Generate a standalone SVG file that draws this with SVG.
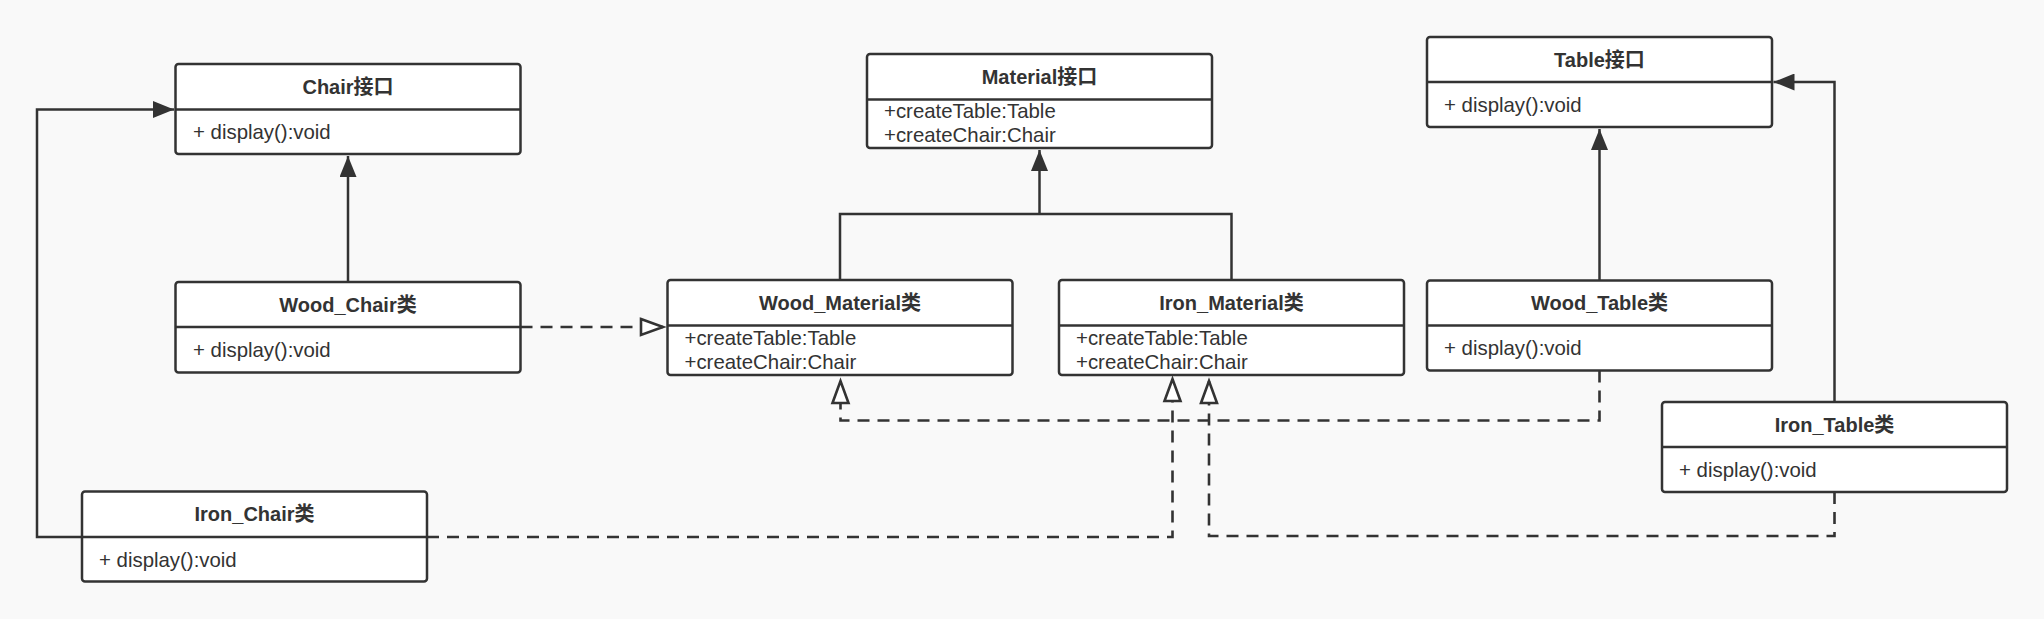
<svg xmlns="http://www.w3.org/2000/svg" width="2044" height="619" viewBox="0 0 2044 619">
<style>
.box{fill:#ffffff;stroke:#333333;stroke-width:2.5}
.div{stroke:#333333;stroke-width:2.5}
.hd{font-family:"Liberation Sans","Noto Sans CJK SC",sans-serif;font-weight:bold;font-size:20px;fill:#333333;text-anchor:middle}
.bd{font-family:"Liberation Sans","Noto Sans CJK SC",sans-serif;font-size:20.4px;fill:#333333}
.solid{fill:none;stroke:#333333;stroke-width:2.5}
.dash{fill:none;stroke:#333333;stroke-width:2.6;stroke-dasharray:12 8}
</style>
<defs>
<marker id="filled" markerUnits="userSpaceOnUse" markerWidth="22" markerHeight="17" viewBox="0 0 22 17" refX="21" refY="8.5" orient="auto">
<path d="M0,0 L21,8.5 L0,17 Z" fill="#333333"/>
</marker>
<marker id="hollow" markerUnits="userSpaceOnUse" markerWidth="28" markerHeight="22" viewBox="-2 -2 28 22" refX="22" refY="9" orient="auto" overflow="visible">
<path d="M0,1 L22,9 L0,17 Z" fill="#ffffff" stroke="#333333" stroke-width="2.6" stroke-dasharray="none"/>
</marker>
</defs>
<rect x="0" y="0" width="2044" height="619" fill="#f9f9f9"/>

<g id="connectors">
<path class="solid" d="M348,282 L348,156" marker-end="url(#filled)"/>
<path class="solid" d="M82,537 L37,537 L37,109.5 L174,109.5" marker-end="url(#filled)"/>
<path class="dash" d="M520.5,327 L663,327" marker-end="url(#hollow)"/>
<path class="solid" d="M840,280 L840,214 L1231.5,214 L1231.5,280"/>
<path class="solid" d="M1039.5,214 L1039.5,150" marker-end="url(#filled)"/>
<path class="solid" d="M1599.5,280.5 L1599.5,129" marker-end="url(#filled)"/>
<path class="solid" d="M1834.5,402 L1834.5,82 L1773.5,82" marker-end="url(#filled)"/>
<path class="dash" d="M1599.5,370.5 L1599.5,420.5 L840.5,420.5 L840.5,381" marker-end="url(#hollow)"/>
<path class="dash" d="M427,537 L1172.5,537 L1172.5,379" marker-end="url(#hollow)"/>
<path class="dash" d="M1834.5,492 L1834.5,536 L1209,536 L1209,381" marker-end="url(#hollow)"/>
</g>

<g id="chair-interface">
<rect class="box" x="175.5" y="64" width="345" height="90" rx="3"/>
<line class="div" x1="175.5" y1="109.5" x2="520.5" y2="109.5"/>
<text class="hd" x="348" y="94">Chair接口</text>
<text class="bd" x="193" y="139">+ display():void</text>
</g>

<g id="wood-chair">
<rect class="box" x="175.5" y="282" width="345" height="90.5" rx="3"/>
<line class="div" x1="175.5" y1="327" x2="520.5" y2="327"/>
<text class="hd" x="348" y="311.5">Wood_Chair类</text>
<text class="bd" x="193" y="357">+ display():void</text>
</g>

<g id="iron-chair">
<rect class="box" x="82" y="491.5" width="345" height="90" rx="3"/>
<line class="div" x1="82" y1="537" x2="427" y2="537"/>
<text class="hd" x="254.5" y="521">Iron_Chair类</text>
<text class="bd" x="99" y="566.5">+ display():void</text>
</g>

<g id="material-interface">
<rect class="box" x="867" y="54" width="345" height="94" rx="3"/>
<line class="div" x1="867" y1="99.5" x2="1212" y2="99.5"/>
<text class="hd" x="1039.5" y="84">Material接口</text>
<text class="bd" x="884" y="118">+createTable:Table</text>
<text class="bd" x="884" y="141.5">+createChair:Chair</text>
</g>

<g id="wood-material">
<rect class="box" x="667.5" y="280" width="345" height="95" rx="3"/>
<line class="div" x1="667.5" y1="325.5" x2="1012.5" y2="325.5"/>
<text class="hd" x="840" y="310">Wood_Material类</text>
<text class="bd" x="684.5" y="345">+createTable:Table</text>
<text class="bd" x="684.5" y="368.5">+createChair:Chair</text>
</g>

<g id="iron-material">
<rect class="box" x="1059" y="280" width="345" height="95" rx="3"/>
<line class="div" x1="1059" y1="325.5" x2="1404" y2="325.5"/>
<text class="hd" x="1231.5" y="310">Iron_Material类</text>
<text class="bd" x="1076" y="345">+createTable:Table</text>
<text class="bd" x="1076" y="368.5">+createChair:Chair</text>
</g>

<g id="table-interface">
<rect class="box" x="1427" y="37" width="345" height="90" rx="3"/>
<line class="div" x1="1427" y1="82" x2="1772" y2="82"/>
<text class="hd" x="1599.5" y="66.5">Table接口</text>
<text class="bd" x="1444" y="111.5">+ display():void</text>
</g>

<g id="wood-table">
<rect class="box" x="1427" y="280.5" width="345" height="90" rx="3"/>
<line class="div" x1="1427" y1="325.5" x2="1772" y2="325.5"/>
<text class="hd" x="1599.5" y="310">Wood_Table类</text>
<text class="bd" x="1444" y="355">+ display():void</text>
</g>

<g id="iron-table">
<rect class="box" x="1662" y="402" width="345" height="90" rx="3"/>
<line class="div" x1="1662" y1="447" x2="2007" y2="447"/>
<text class="hd" x="1834.5" y="431.5">Iron_Table类</text>
<text class="bd" x="1679" y="476.5">+ display():void</text>
</g>
</svg>
